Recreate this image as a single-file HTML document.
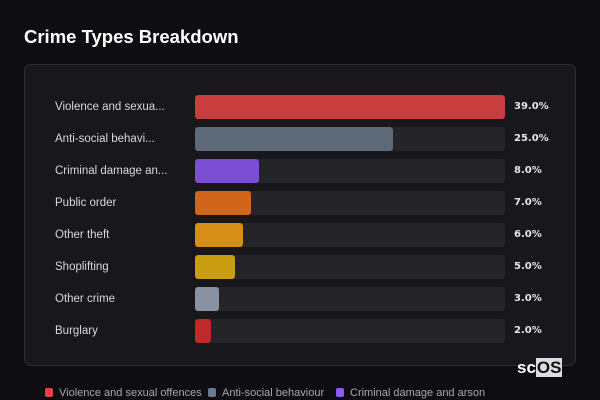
<!DOCTYPE html>
<html><head><style>
body{margin:0;width:600px;height:400px;background:#0e0d11;font-family:"Liberation Sans","DejaVu Sans",sans-serif;position:relative;overflow:hidden}
h1{position:absolute;left:24px;top:26px;margin:0;font-size:18.5px;font-weight:bold;color:#fff;font-family:"Liberation Sans",sans-serif}
.card{position:absolute;left:24px;top:64px;width:550px;height:300px;background:#18181c;border:1px solid #2f2f35;border-radius:7px}
.row{position:absolute;left:0;height:24px;width:600px}
.lbl{position:absolute;left:55px;top:6px;font-size:11.5px;color:#d8d8dc;font-family:"Liberation Sans",sans-serif}
.trk{position:absolute;left:195px;top:0;width:310px;height:24px;background:#242429;border-radius:3px}
.bar{position:absolute;left:195px;top:0;height:24px;border-radius:3px}
.val{position:absolute;left:514px;top:6px;font-size:10px;font-weight:bold;color:#e6e6ea;font-family:"DejaVu Sans",sans-serif}
.leg{position:absolute;top:387px;font-size:11px;color:#a8a8b0;font-family:"Liberation Sans",sans-serif}
.sw{display:inline-block;width:8px;height:9px;border-radius:2px;margin-right:6px;vertical-align:-1px}
.logo{position:absolute;left:517px;top:358px;font-size:17px;color:#fff;font-weight:bold}
</style></head><body>
<h1>Crime Types Breakdown</h1>
<div class="card"></div>
<div class="row" style="top:95px"><div class="lbl">Violence and sexua...</div><div class="trk"></div><div class="bar" style="width:310px;background:#c93d3f"></div><div class="val">39.0%</div></div>
<div class="row" style="top:127px"><div class="lbl">Anti-social behavi...</div><div class="trk"></div><div class="bar" style="width:198px;background:#5f6a79"></div><div class="val">25.0%</div></div>
<div class="row" style="top:159px"><div class="lbl">Criminal damage an...</div><div class="trk"></div><div class="bar" style="width:64px;background:#7a4fd3"></div><div class="val">8.0%</div></div>
<div class="row" style="top:191px"><div class="lbl">Public order</div><div class="trk"></div><div class="bar" style="width:56px;background:#d2651c"></div><div class="val">7.0%</div></div>
<div class="row" style="top:223px"><div class="lbl">Other theft</div><div class="trk"></div><div class="bar" style="width:48px;background:#d68e17"></div><div class="val">6.0%</div></div>
<div class="row" style="top:255px"><div class="lbl">Shoplifting</div><div class="trk"></div><div class="bar" style="width:40px;background:#c99e10"></div><div class="val">5.0%</div></div>
<div class="row" style="top:287px"><div class="lbl">Other crime</div><div class="trk"></div><div class="bar" style="width:24px;background:#8892a3"></div><div class="val">3.0%</div></div>
<div class="row" style="top:319px"><div class="lbl">Burglary</div><div class="trk"></div><div class="bar" style="width:16px;background:#c02829"></div><div class="val">2.0%</div></div>
<div class="logo">sc<span style="background:#ddd;color:#111;padding:0 1px">OS</span></div>
<div class="leg" style="left:45px"><span class="sw" style="background:#e04545"></span>Violence and sexual offences</div>
<div class="leg" style="left:208px"><span class="sw" style="background:#6b7a90"></span>Anti-social behaviour</div>
<div class="leg" style="left:336px"><span class="sw" style="background:#8a5cf0"></span>Criminal damage and arson</div>
</body></html>
